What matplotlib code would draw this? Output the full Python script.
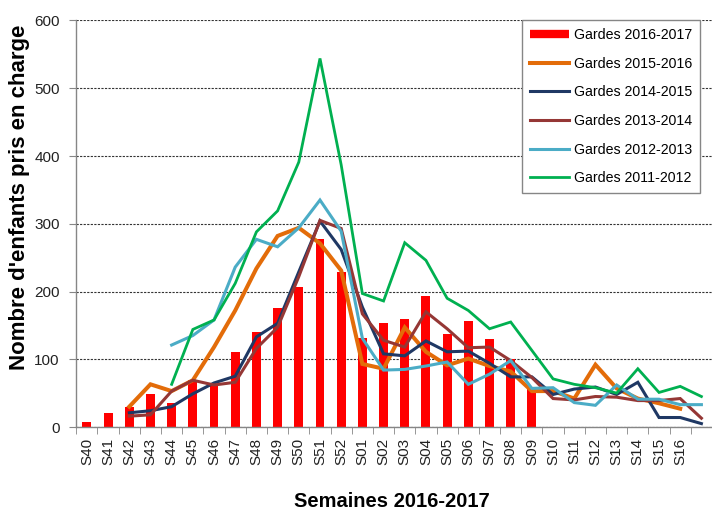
import numpy as np
import matplotlib
matplotlib.use("Agg")
import matplotlib.pyplot as plt
from matplotlib.lines import Line2D

nan = np.nan
weeks = ["S40", "S41", "S42", "S43", "S44", "S45", "S46", "S47", "S48", "S49",
         "S50", "S51", "S52", "S01", "S02", "S03", "S04", "S05", "S06", "S07",
         "S08", "S09", "S10", "S11", "S12", "S13", "S14", "S15", "S16", ""]

g2016_2017 = [7, 21, 29, 48, 36, 70, 64, 111, 140, 176, 207, 278, 229, 132, 153,
              160, 194, 138, 156, 130, 100, 59, nan, nan, nan, nan, nan, nan, nan, nan]
g2015_2016 = [nan, nan, 30, 63, 53, 69, 118, 172, 234, 282, 294, 271, 231, 93, 86,
              147, 111, 91, 101, 90, 82, 53, 53, 42, 92, 57, 42, 35, 27, nan]
g2014_2015 = [nan, nan, 21, 24, 30, 49, 65, 75, 133, 153, 229, 304, 262, 177, 108,
              105, 127, 111, 112, 94, 74, 74, 48, 56, 59, 48, 66, 14, 14, 5]
g2013_2014 = [nan, nan, 16, 18, 53, 69, 62, 66, 116, 147, 222, 305, 293, 167, 128,
              118, 170, 145, 117, 118, 98, 73, 42, 40, 45, 44, 39, 39, 42, 13]
g2012_2013 = [nan, nan, nan, nan, 121, 135, 158, 236, 277, 266, 294, 335, 289, 131, 84,
              85, 90, 96, 63, 78, 98, 57, 58, 36, 32, 62, 41, 41, 33, 33]
g2011_2012 = [nan, nan, nan, nan, 63, 144, 158, 212, 288, 319, 391, 544, 387, 197, 186,
              272, 246, 190, 172, 145, 155, 113, 71, 63, 58, 50, 86, 51, 60, 45]

series_lines = [
    ("Gardes 2015-2016", g2015_2016, "#E36C09", 2.9),
    ("Gardes 2014-2015", g2014_2015, "#1F3864", 2.2),
    ("Gardes 2013-2014", g2013_2014, "#953735", 2.2),
    ("Gardes 2012-2013", g2012_2013, "#4BACC6", 2.2),
    ("Gardes 2011-2012", g2011_2012, "#00B050", 2.0),
]

plt.rcParams['font.family'] = ['Liberation Sans', 'DejaVu Sans']

fig = plt.figure(figsize=(7.12, 5.11), dpi=100)
ax = fig.add_axes([76.3 / 712, 84 / 511, 1 - 76.3 / 712, (427 - 20.5) / 511])

x = np.arange(len(weeks))
ax.bar(x, g2016_2017, width=0.42, color="#FF0000", zorder=2)
for i, (name, vals, col, lw) in enumerate(series_lines):
    ax.plot(x, vals, color=col, lw=lw, zorder=3 + i, solid_joinstyle="miter")

ax.set_xlim(-0.5, 29.32)
ax.set_ylim(0, 600)
ax.set_yticks(np.arange(0, 601, 100))
ax.yaxis.grid(True, color="#333333", linestyle=(0, (2, 1.2)), lw=0.8)
ax.set_axisbelow(True)

ax.set_xticks(x)
ax.set_xticklabels(weeks, rotation=90, fontsize=11, color="#222222")
ax.set_xticks(np.arange(-0.5, 29.6, 1), minor=True)
ax.tick_params(axis="x", which="major", length=0, pad=8)
ax.tick_params(axis="x", which="minor", length=5, color="#868686", direction="out")
ax.tick_params(axis="y", length=5, color="#868686", labelsize=11, labelcolor="#222222", pad=7)

for s in ["top", "right"]:
    ax.spines[s].set_visible(False)
for s in ["left", "bottom"]:
    ax.spines[s].set_color("#868686")
    ax.spines[s].set_linewidth(1.0)

fig.text(20 / 712, 1 - 197 / 511, "Nombre d'enfants pris en charge", rotation=90,
         ha="center", va="center", fontsize=16, fontweight="bold")
fig.text(392 / 712, 1 - 501 / 511, "Semaines 2016-2017", ha="center", va="center",
         fontsize=14.5, fontweight="bold")

handles = [Line2D([], [], color="#FF0000", lw=6, solid_capstyle="butt")]
labels = ["Gardes 2016-2017"]
for name, vals, col, lw in series_lines:
    handles.append(Line2D([], [], color=col, lw=lw))
    labels.append(name)
leg = fig.legend(handles, labels, loc="upper left",
                 bbox_to_anchor=(522 / 712, 1 - 195 / 511, (700 - 522) / 712, 175 / 511),
                 mode="expand", fontsize=10.2, frameon=True, fancybox=False,
                 edgecolor="#868686", handlelength=2.75, handletextpad=0.35,
                 labelspacing=1.04, borderpad=0.55, borderaxespad=0)
leg.get_frame().set_linewidth(1.0)
leg.get_frame().set_alpha(1.0)

fig.savefig("out.png", dpi=100)
